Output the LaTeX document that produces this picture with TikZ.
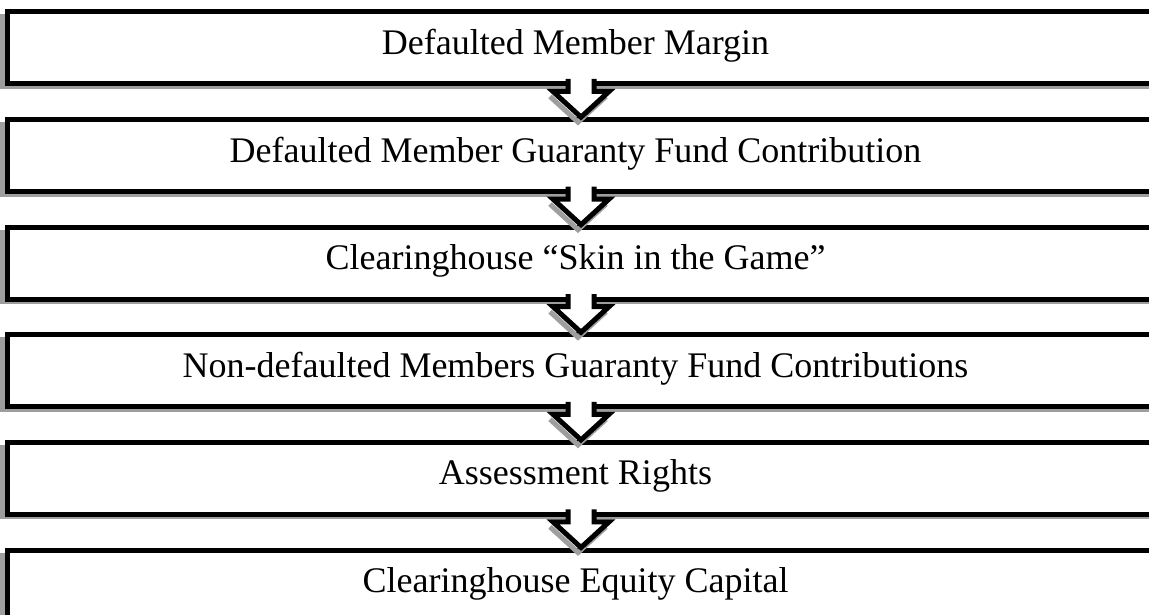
\documentclass[tikz,border=0pt]{standalone}
\usepackage{fontspec}
\setmainfont{Liberation Serif}
\usetikzlibrary{calc}
\begin{document}
\begin{tikzpicture}[x=1pt,y=-1pt,
  box/.style={draw=black, line width=5pt, fill=white, rectangle, inner sep=0pt,
              minimum width=1200pt, minimum height=72pt, anchor=north west},
  boxshadow/.style={fill=black!38},
  lbl/.style={font=\fontsize{36}{43}\selectfont, anchor=base, inner sep=0pt},
  arrline/.style={draw=black, line width=5pt, line join=miter},
  arrshadow/.style={draw=black!38, line width=5pt, line join=miter},
]
\useasboundingbox (0,0) rectangle (1149,615);
\clip (0,0) rectangle (1149,615);
% boxes
\foreach \i/\txt in {0/{Defaulted Member Margin},
                     1/{Defaulted Member Guaranty Fund Contribution},
                     2/{Clearinghouse “Skin in the Game”},
                     3/{Non-defaulted Members Guaranty Fund Contributions},
                     4/{Assessment Rights},
                     5/{Clearinghouse Equity Capital}} {
  \pgfmathsetmacro\T{9.5+107.6*\i}
  \pgfmathsetmacro\B{\T+72}
  \fill[boxshadow] (0,\T+5) rectangle (1160,\B+7.5);
  \node[box] (b\i) at (4.5,\T) {};
  \node[lbl] (t\i) at (575.5,\T+45) {\txt};
}
% arrows
\foreach \i in {0,...,4} {
  \pgfmathsetmacro\B{9.5+107.6*\i+72}
  \pgfmathsetmacro\N{9.5+107.6*(\i+1)}
  \coordinate (s\i) at (581,\B);
  \coordinate (p\i) at (581,\N);
  \draw[arrshadow] ($(s\i)+(-31,15)$) -- ($(p\i)+(-3,5)$) -- ($(s\i)+(25,15)$);
  \fill[white] ($(s\i)+(-13,-3)$) -- ($(s\i)+(-13,10)$) -- ($(s\i)+(-28,10)$)
      -- (p\i) -- ($(s\i)+(28,10)$) -- ($(s\i)+(13,10)$) -- ($(s\i)+(13,-3)$) -- cycle;
  \draw[arrline] ($(s\i)+(-13,-2.5)$) -- ($(s\i)+(-13,10)$) -- ($(s\i)+(-28,10)$)
      -- (p\i) -- ($(s\i)+(28,10)$) -- ($(s\i)+(13,10)$) -- ($(s\i)+(13,-2.5)$);
}
\end{tikzpicture}
\end{document}
